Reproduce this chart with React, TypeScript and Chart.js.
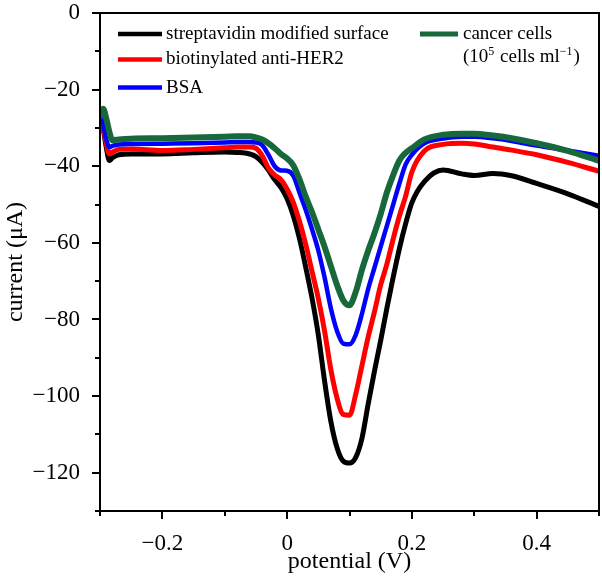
import React, { useEffect, useRef } from "react";
import { Chart, registerables } from "chart.js";

Chart.register(...registerables);

// ---------- data ----------
const potential = [
  -0.3, -0.295, -0.29, -0.285, -0.28, -0.27, -0.25, -0.2, -0.15, -0.1, -0.08, -0.06, -0.05, -0.04, -0.03,
  -0.02, -0.01, 0, 0.01, 0.02, 0.03, 0.04, 0.05, 0.06, 0.07, 0.08, 0.09, 0.1, 0.11, 0.12, 0.13, 0.14, 0.15,
  0.16, 0.17, 0.18, 0.19, 0.2, 0.22, 0.25, 0.28, 0.3, 0.33, 0.36, 0.4, 0.45, 0.5,
];

const streptavidin = [
  -25.5, -30, -35, -38.5, -37.8, -37, -36.8, -36.8, -36.5, -36.3, -36.4, -36.8, -37.5, -39, -41,
  -43.5, -45.5, -48.5, -53, -59, -66.5, -74.5, -84, -96, -106.5, -113.5, -117, -117.5, -116, -111, -102, -93.5, -85.5,
  -77, -69, -61.5, -55, -49.5, -44, -41, -42, -42.4, -41.9, -42.5, -44.5, -47.2, -50.5,
];

const biotinylated = [
  -25.5, -29.5, -34, -36.8, -36.3, -35.6, -35.5, -35.9, -35.6, -35.2, -35, -35, -35.3, -37.2, -40.5,
  -42.3, -43.5, -46, -49.5, -54.5, -60.5, -67.5, -74.5, -83, -93, -100.5, -104.8, -105, -99.5, -92, -84.5, -78, -71,
  -65.5, -59, -53, -47.8, -41.5, -36, -34.3, -34, -34.2, -35, -35.8, -37, -39, -41.3,
];

const bsa = [
  -25.5, -29, -33, -35, -34.7, -34.3, -34.2, -34.1, -34, -33.8, -33.7, -33.7, -33.8, -34.5, -37,
  -40, -41.1, -41.2, -42.5, -47, -51.5, -56.5, -62, -69, -77, -83, -86.3, -86.5, -84, -78.5, -72, -66.5, -61,
  -55.5, -50, -44.5, -39.5, -37, -34, -32.8, -32.3, -32.3, -32.7, -33.4, -34.6, -35.9, -37.3,
];

const cancerCells = [
  -27, -25, -27.5, -31, -33.2, -33, -32.8, -32.7, -32.5, -32.3, -32.2, -32.2, -32.5, -33, -34,
  -35.3, -36.8, -38, -39.8, -43.5, -48, -52, -56.5, -61, -66, -71, -75, -76.3, -72.8, -67, -62, -57.5, -52.5,
  -46.8, -42.3, -38.5, -36.5, -35.3, -33, -31.8, -31.5, -31.5, -32, -32.7, -34, -36, -38.6,
];

const seriesNames = ["streptavidin modified surface", "biotinylated anti-HER2", "BSA", "cancer cells"];
const seriesColors = ["#000000", "#ff0000", "#0000ff", "#17683a"];

const xLabeledTicks = [-0.2, 0, 0.2, 0.4];
const yLabeledTicks = [0, -20, -40, -60, -80, -100, -120];

const FONT = '"Liberation Serif", "Times New Roman", serif';

function fmt(v: number, decimals: number) {
  if (Math.abs(v) < 1e-9) return "0";
  const s = Math.abs(v).toFixed(decimals);
  return (v < 0 ? "\u2212" : "") + s;
}

const framePlugin = {
  id: "frame",
  afterDraw(chart: any) {
    const { ctx, chartArea } = chart;
    const { left, right, top, bottom } = chartArea;
    const xs = chart.scales.x;
    const ys = chart.scales.y;
    ctx.save();
    ctx.strokeStyle = "#000";
    ctx.lineWidth = 2;
    ctx.strokeRect(left, top, right - left, bottom - top);
    ctx.beginPath();
    xs.ticks.forEach((t: any) => {
      const px = Math.round(xs.getPixelForValue(t.value));
      const len = t.label ? 8 : 5;
      ctx.moveTo(px, bottom);
      ctx.lineTo(px, bottom + len);
    });
    ys.ticks.forEach((t: any) => {
      const py = Math.round(ys.getPixelForValue(t.value));
      const len = t.label ? 8 : 5;
      ctx.moveTo(left, py);
      ctx.lineTo(left - len, py);
    });
    ctx.stroke();

    // legend
    const big = `19px ${FONT}`;
    const small = `12px ${FONT}`;
    ctx.fillStyle = "#000";
    ctx.textBaseline = "alphabetic";
    ctx.textAlign = "left";
    const rows = [
      { x1: 118, x2: 162, ly: 34, tx: 166, ty: 38.5 },
      { x1: 118, x2: 162, ly: 59.5, tx: 166, ty: 63.5 },
      { x1: 118, x2: 162, ly: 87.5, tx: 166, ty: 93 },
      { x1: 420, x2: 458, ly: 34, tx: 463, ty: 38.5 },
    ];
    rows.forEach((r, i) => {
      ctx.strokeStyle = seriesColors[i];
      ctx.lineWidth = i === 3 ? 5 : 4.5;
      ctx.beginPath();
      ctx.moveTo(r.x1, r.ly);
      ctx.lineTo(r.x2, r.ly);
      ctx.stroke();
      ctx.font = big;
      ctx.fillText(seriesNames[i], r.tx, r.ty);
    });
    // second line of the cancer-cells label with superscripts
    const runs = [
      { t: "(10", sup: false },
      { t: "5", sup: true },
      { t: " cells ml", sup: false },
      { t: "\u22121", sup: true },
      { t: ")", sup: false },
    ];
    let cx = 463;
    const baseY = 62;
    runs.forEach((r) => {
      ctx.font = r.sup ? small : big;
      ctx.fillText(r.t, cx, r.sup ? baseY - 7 : baseY);
      cx += ctx.measureText(r.t).width + (r.sup ? 1 : 0);
    });
    ctx.restore();
  },
};

function zeroPadding(s: any) {
  s.paddingTop = 0;
  s.paddingBottom = 0;
  s.paddingLeft = 0;
  s.paddingRight = 0;
}

export default function App() {
  const ref = useRef<HTMLCanvasElement>(null);
  useEffect(() => {
    const series = [streptavidin, biotinylated, bsa, cancerCells];
    const widths = [5, 5, 4.5, 6];
    const chart = new Chart(ref.current as HTMLCanvasElement, {
      type: "line",
      data: {
        datasets: series.map((s, i) => ({
          label: seriesNames[i],
          data: potential.map((p, k) => ({ x: p, y: s[k] })),
          borderColor: seriesColors[i],
          backgroundColor: seriesColors[i],
          borderWidth: widths[i],
          pointRadius: 0,
          cubicInterpolationMode: "monotone" as const,
          fill: false,
          order: 3 - i,
          borderCapStyle: "round" as const,
          borderJoinStyle: "round" as const,
        })),
      },
      options: {
        animation: false,
        responsive: false,
        layout: { padding: { left: 0, right: 3, top: 13, bottom: 0 } },
        plugins: { legend: { display: false }, tooltip: { enabled: false } },
        scales: {
          x: {
            type: "linear",
            min: -0.3,
            max: 0.5,
            afterFit: (s: any) => {
              s.height = 72;
              zeroPadding(s);
            },
            grid: { display: false, drawTicks: false },
            border: { display: false },
            ticks: {
              stepSize: 0.1,
              autoSkip: false,
              maxRotation: 0,
              padding: 19,
              color: "#000",
              font: { family: FONT, size: 23 },
              callback: (v: any) => {
                const n = Number(v);
                return xLabeledTicks.some((t) => Math.abs(t - n) < 1e-6) ? fmt(n, 1) : "";
              },
            },
            title: {
              display: true,
              text: "potential (V)",
              color: "#000",
              font: { family: FONT, size: 24 },
              padding: { top: 0, bottom: 7 },
            },
          },
          y: {
            type: "linear",
            min: -130,
            max: 0,
            afterFit: (s: any) => {
              s.width = 100;
              zeroPadding(s);
            },
            grid: { display: false, drawTicks: false },
            border: { display: false },
            ticks: {
              stepSize: 10,
              autoSkip: false,
              padding: 20,
              color: "#000",
              font: { family: FONT, size: 23 },
              callback: (v: any) => {
                const n = Number(v);
                return yLabeledTicks.some((t) => Math.abs(t - n) < 1e-6) ? fmt(n, 0) : "";
              },
            },
            title: {
              display: true,
              text: "current (\u03bcA)",
              color: "#000",
              font: { family: FONT, size: 24 },
              padding: { top: 1, bottom: 0 },
            },
          },
        },
      },
      plugins: [framePlugin],
    });
    return () => chart.destroy();
  }, []);
  return (
    <div style={{ position: "absolute", left: 0, top: 0, width: 602, height: 583, background: "#fff" }}>
      <canvas ref={ref} width={602} height={583} style={{ display: "block" }} />
    </div>
  );
}
